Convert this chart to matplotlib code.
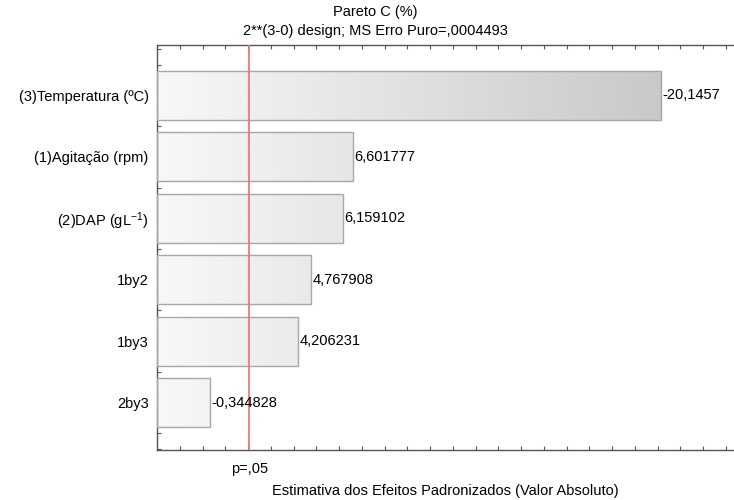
import numpy as np
import matplotlib.pyplot as plt
from matplotlib.ticker import MultipleLocator, NullFormatter

plt.rcParams.update({
    'font.family': ['Liberation Sans', 'DejaVu Sans'],
    'font.size': 10.5,
    'mathtext.fontset': 'custom',
    'mathtext.rm': 'Liberation Sans',
    'mathtext.it': 'Liberation Sans',
    'xtick.direction': 'in',
    'ytick.direction': 'in',
})

# =====================================================
# Data (top -> bottom, as in the chart)
# =====================================================

factors = [
    "(3)Temperatura (ºC)",
    "(1)Agitação (rpm)",
    r"(2)DAP (gL$^{-1}$)",
    "1by2",
    "1by3",
    "2by3",
]
effects = [-20.1457, 6.601777, 6.159102, 4.767908, 4.206231, -0.344828]

p_limit = 2.05
p_label = "p=,05"
x_min, x_max = -2.0, 23.36

title = "Pareto C (%)"
subtitle = "2**(3-0) design; MS Erro Puro=,0004493"
xlabel = "Estimativa dos Efeitos Padronizados (Valor Absoluto)"

# =====================================================
# Plot
# =====================================================

fig = plt.figure(figsize=(7.34, 5.0), dpi=100)
ax = fig.add_axes([157 / 734, 50 / 500, 577 / 734, 405 / 500])

n = len(factors)
ypos = np.arange(n)[::-1]
bar_h = 0.8

# gradient running across the whole x axis, clipped to each bar
grad = np.linspace(0.97, 0.758, 256).reshape(1, -1)

for y, v in zip(ypos, effects):
    bar = ax.barh(y, abs(v) - x_min, left=x_min, height=bar_h,
                  facecolor='none', edgecolor='#a8a8a8', lw=1.0, zorder=3)[0]
    im = ax.imshow(grad, extent=(x_min, x_max, y - bar_h / 2, y + bar_h / 2),
                   aspect='auto', cmap='gray', vmin=0, vmax=1,
                   interpolation='bilinear', zorder=2)
    im.set_clip_path(bar)
    ax.text(abs(v) + 0.06, y, str(v).replace('.', ','),
            ha='left', va='center', zorder=5)

ax.axvline(p_limit, color='#f07878', lw=1.3, zorder=4)

ax.set_xlim(x_min, x_max)
ax.set_ylim(-0.77, n - 1 + 0.82)

ax.set_yticks(ypos)
ax.set_yticklabels(factors)
ax.yaxis.set_minor_locator(MultipleLocator(0.25))
ax.tick_params(axis='y', which='both', length=3, width=0.8,
               color='#555555', pad=6)

ax.xaxis.set_major_locator(MultipleLocator(1))
ax.xaxis.set_major_formatter(NullFormatter())
ax.tick_params(axis='x', which='both', length=3, width=0.8,
               color='#555555', top=True)

for side in ['left', 'bottom', 'top']:
    ax.spines[side].set_color('#555555')
    ax.spines[side].set_linewidth(1.0)
ax.spines['right'].set_visible(False)

ax.text(p_limit, -0.03, p_label, transform=ax.get_xaxis_transform(),
        ha='center', va='top')
ax.set_xlabel(xlabel, labelpad=21)

fig.text(375 / 734, 1 - 12 / 500, title, ha='center', va='center')
fig.text(375 / 734, 1 - 31 / 500, subtitle, ha='center', va='center')

fig.savefig("out.png", dpi=100)
